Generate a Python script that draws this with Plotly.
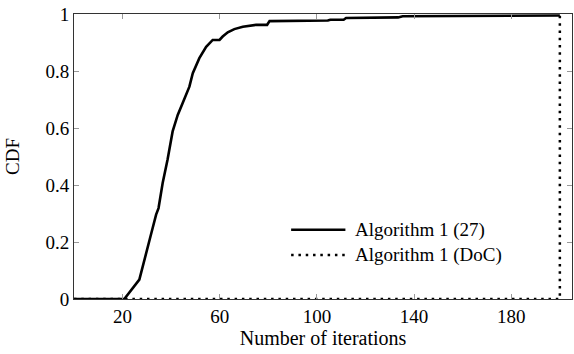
import plotly.graph_objects as go

# Empirical CDF of the number of iterations, Algorithm 1 with parameter 27
iters_27 = [0, 20.7, 26.9, 28.9, 31.5, 33.8, 34.8, 36.5, 38.5, 40.6, 42.7, 44.7,
            47.5, 48.9, 51.6, 54.4, 57.1, 59.9, 61.2, 63.3, 66.0, 69.5, 75.0,
            79.5, 80.5, 104.5, 105.5, 111.0, 112.0, 133.4, 135.3, 200.0]
cdf_27 = [0, 0, 0.068, 0.138, 0.220, 0.296, 0.319, 0.407, 0.489, 0.588, 0.646, 0.687,
          0.745, 0.792, 0.845, 0.885, 0.909, 0.909, 0.921, 0.936, 0.947, 0.955, 0.962,
          0.962, 0.975, 0.977, 0.980, 0.980, 0.986, 0.988, 0.992, 0.995]

# Algorithm 1 (DoC): never terminates before the iteration cap
iters_doc = [0, 200, 200]
cdf_doc = [0, 0, 1]

legend_names = ["Algorithm 1 (27)", "Algorithm 1 (DoC)"]
x_ticks = [20, 60, 100, 140, 180]
y_ticks = [0, 0.2, 0.4, 0.6, 0.8, 1]

FONT = "Liberation Serif, Times New Roman, DejaVu Serif, serif"
DOTS = "2.5px,4.8px"
fig = go.Figure()

fig.add_trace(go.Scatter(x=iters_doc, y=cdf_doc, mode="lines", name=legend_names[1],
                         line=dict(color="black", width=2.5, dash=DOTS),
                         showlegend=False, cliponaxis=False))
fig.add_trace(go.Scatter(x=iters_27, y=cdf_27, mode="lines", name=legend_names[0],
                         line=dict(color="black", width=2.6),
                         showlegend=False, cliponaxis=False))

# legend drawn in paper coordinates with longer line samples
leg_x0, leg_x1, leg_tx = 0.436, 0.545, 0.560
leg_y = [0.243, 0.154]
dashes = ["solid", DOTS]
for name, yy, dsh in zip(legend_names, leg_y, dashes):
    fig.add_shape(type="line", xref="paper", yref="paper", x0=leg_x0, x1=leg_x1,
                  y0=yy, y1=yy, line=dict(color="black", width=2.5, dash=dsh))
    fig.add_annotation(xref="paper", yref="paper", x=leg_tx, y=yy, text=name,
                       showarrow=False, xanchor="left", yanchor="middle",
                       font=dict(family=FONT, size=19, color="black"))

axis_common = dict(showgrid=False, zeroline=False, showline=True, linecolor="#333333",
                   linewidth=1, mirror="ticks", ticks="inside", ticklen=5,
                   tickcolor="#999999", tickwidth=1,
                   tickfont=dict(family=FONT, size=19, color="black"))

fig.update_xaxes(range=[0, 205], tickvals=x_ticks,
                 title=dict(text="Number of iterations", standoff=5,
                            font=dict(family=FONT, size=20, color="black")),
                 **axis_common)
fig.update_yaxes(range=[0, 1], tickvals=y_ticks, ticktext=["0", "0.2", "0.4", "0.6", "0.8", "1"],
                 title=dict(text="CDF", standoff=20,
                            font=dict(family=FONT, size=19, color="black")),
                 **axis_common)

fig.update_layout(width=574, height=354, margin=dict(l=74, r=2, t=14, b=54.5),
                  plot_bgcolor="white", paper_bgcolor="white", showlegend=False,
                  font=dict(family=FONT, color="black"))

fig.write_html("out.html")
